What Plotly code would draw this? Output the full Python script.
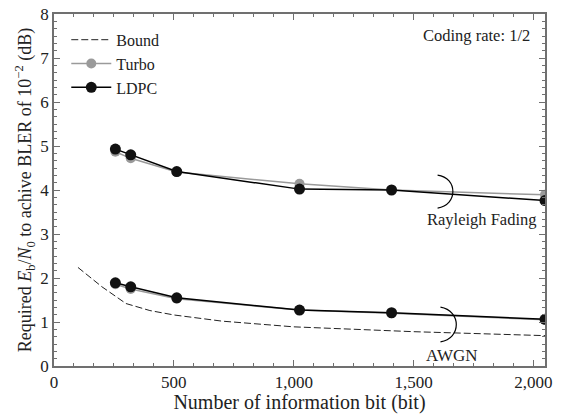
import plotly.graph_objects as go

# ---- data ----
info_bits = [256, 320, 512, 1024, 1408, 2048]
ldpc_rayleigh = [4.93, 4.80, 4.42, 4.02, 4.00, 3.76]
turbo_rayleigh = [4.87, 4.72, 4.41, 4.14, 4.00, 3.89]
ldpc_awgn = [1.89, 1.80, 1.55, 1.27, 1.21, 1.06]
turbo_awgn = [1.86, 1.75, 1.53, 1.27, 1.20, 1.05]
bound_bits = [100, 200, 300, 400, 500, 700, 1000, 1500, 2048]
bound_vals = [2.24, 1.80, 1.42, 1.26, 1.16, 1.02, 0.89, 0.78, 0.69]

x_ticks = [0, 500, 1000, 1500, 2000]
y_ticks = [0, 1, 2, 3, 4, 5, 6, 7, 8]

FONT = "Liberation Serif, Times New Roman, serif"
GRAY = "#9a9a9a"
AX = "#707070"

fig = go.Figure()

fig.add_trace(go.Scatter(x=bound_bits, y=bound_vals, mode="lines", name="Bound",
                         line=dict(color="#222", width=1, dash="7px,3px")))
fig.add_trace(go.Scatter(x=info_bits, y=turbo_rayleigh, mode="lines+markers", name="Turbo",
                         legendgroup="turbo",
                         line=dict(color=GRAY, width=1.5),
                         marker=dict(color=GRAY, size=10)))
fig.add_trace(go.Scatter(x=info_bits, y=turbo_awgn, mode="lines+markers", name="Turbo",
                         legendgroup="turbo", showlegend=False,
                         line=dict(color=GRAY, width=1.5),
                         marker=dict(color=GRAY, size=10)))
fig.add_trace(go.Scatter(x=info_bits, y=ldpc_rayleigh, mode="lines+markers", name="LDPC",
                         legendgroup="ldpc",
                         line=dict(color="black", width=1.5),
                         marker=dict(color="#111111", size=11)))
fig.add_trace(go.Scatter(x=info_bits, y=ldpc_awgn, mode="lines+markers", name="LDPC",
                         legendgroup="ldpc", showlegend=False,
                         line=dict(color="black", width=1.5),
                         marker=dict(color="#111111", size=11)))

# bracket arcs
fig.add_shape(type="path", xref="x", yref="y",
              path="M 1600,4.34 C 1685,4.28 1685,3.65 1600,3.59",
              line=dict(color="black", width=1.2))
fig.add_shape(type="path", xref="x", yref="y",
              path="M 1612,1.34 C 1700,1.26 1700,0.62 1612,0.55",
              line=dict(color="black", width=1.2))

fig.add_annotation(x=1785, y=3.33, text="Rayleigh Fading", showarrow=False,
                   xref="x", yref="y", font=dict(family=FONT, size=16.5, color="#222"))
fig.add_annotation(x=1660, y=0.25, text="AWGN", showarrow=False,
                   xref="x", yref="y", font=dict(family=FONT, size=17, color="#222"))
fig.add_annotation(x=0.973, y=0.94, xref="paper", yref="paper", xanchor="right",
                   yanchor="middle", text="Coding rate: 1/2", showarrow=False,
                   font=dict(family=FONT, size=16.5, color="#222"))

axis_common = dict(showline=True, linecolor=AX, linewidth=1.5, mirror="allticks",
                   ticks="inside", ticklen=6, tickcolor=AX, tickwidth=1,
                   showgrid=False, zeroline=False, automargin=False,
                   tickfont=dict(family=FONT, size=17, color="#222"))

fig.update_xaxes(range=[0, 2048], tickvals=x_ticks, separatethousands=True,
                 tickformat=",d",
                 minor=dict(dtick=500 / 6, ticks="inside", ticklen=3, tickcolor=AX,
                            showgrid=False),
                 title=dict(text="Number of information bit (bit)",
                            font=dict(family=FONT, size=20, color="#222"), standoff=0),
                 **axis_common)
fig.update_yaxes(range=[0, 8], tickvals=y_ticks,
                 minor=dict(dtick=1 / 6, ticks="inside", ticklen=3, tickcolor=AX,
                            showgrid=False),
                 title=dict(text="Required <i>E</i><sub>b</sub>/<i>N</i><sub>0</sub> to achive BLER of 10<sup>−2</sup> (dB)",
                            font=dict(family=FONT, size=18, color="#222"), standoff=4),
                 **axis_common)

fig.update_layout(
    width=565, height=414,
    margin=dict(l=54, r=20, t=14, b=48),
    paper_bgcolor="white", plot_bgcolor="white",
    showlegend=True,
    legend=dict(x=0.025, y=0.975, xanchor="left", yanchor="top",
                bgcolor="rgba(0,0,0,0)", font=dict(family=FONT, size=16, color="#222"),
                itemwidth=40, tracegroupgap=0),
)

fig.write_html("out.html", config={"displayModeBar": False},
               post_script="document.body.style.margin='0';")
